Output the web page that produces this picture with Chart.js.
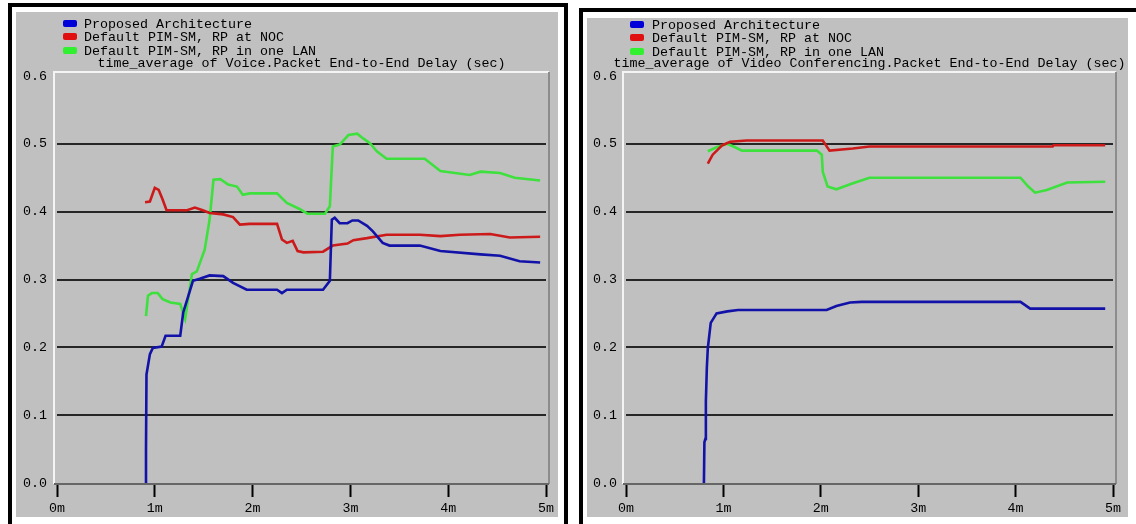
<!DOCTYPE html>
<html>
<head>
<meta charset="utf-8">
<script src="https://cdn.jsdelivr.net/npm/chart.js@4.4.1/dist/chart.umd.min.js"></script>
<style>
  html, body { margin: 0; padding: 0; background: #ffffff; }
  body { width: 1136px; height: 524px; position: relative; overflow: hidden; }
  .frame { position: absolute; box-sizing: border-box; border: 4px solid #000; background: #fff; }
  .panel { position: absolute; background: #c0c0c0; }
  canvas { position: absolute; }
  .txt { position: absolute; font-family: "Liberation Mono", "DejaVu Sans Mono", monospace;
         font-size: 13.33px; line-height: 14px; color: #000; white-space: pre; }
  .swatch { position: absolute; width: 14px; height: 7px; border-radius: 2px; }
</style>
</head>
<body>
<div class="frame" style="left:8px; top:3px; width:560px; height:600px;"></div>
<div class="frame" style="left:579px; top:8px; width:620px; height:600px;"></div>
<div class="panel" style="left:16px; top:12px; width:542px; height:505px;"></div>
<div class="panel" style="left:587px; top:18px; width:541px; height:499px;"></div>
<canvas id="voice" width="542" height="505" style="left:16px; top:12px;"></canvas>
<canvas id="video" width="541" height="499" style="left:587px; top:18px;"></canvas>

<script>
// Series names and axis text
const seriesNames = ['Proposed Architecture', 'Default PIM-SM, RP at NOC', 'Default PIM-SM, RP in one LAN'];
const voiceTitle = 'time_average of Voice.Packet End-to-End Delay (sec)';
const videoTitle = 'time_average of Video Conferencing.Packet End-to-End Delay (sec)';
const xTickLabels = ['0m', '1m', '2m', '3m', '4m', '5m'];
const yTickLabels = ['0.0', '0.1', '0.2', '0.3', '0.4', '0.5', '0.6'];

// Voice delay, [minutes, seconds]
const voiceProposed = [[0.905,0],[0.91,0.05],[0.915,0.16],[0.95,0.19],[0.98,0.199],[1.07,0.201],[1.11,0.217],[1.26,0.217],[1.29,0.251],[1.39,0.298],[1.46,0.301],[1.56,0.306],[1.70,0.305],[1.80,0.295],[1.94,0.285],[2.25,0.285],[2.30,0.28],[2.35,0.285],[2.72,0.285],[2.79,0.298],[2.81,0.388],[2.84,0.391],[2.89,0.383],[2.97,0.383],[3.02,0.387],[3.08,0.387],[3.17,0.379],[3.23,0.371],[3.33,0.354],[3.40,0.35],[3.71,0.35],[3.92,0.342],[4.33,0.337],[4.53,0.335],[4.73,0.327],[4.94,0.325]];
const voiceRpNoc = [[0.90,0.414],[0.95,0.415],[1.00,0.435],[1.04,0.432],[1.08,0.418],[1.12,0.402],[1.33,0.402],[1.41,0.406],[1.49,0.402],[1.56,0.398],[1.70,0.396],[1.80,0.392],[1.87,0.381],[1.97,0.382],[2.25,0.382],[2.30,0.359],[2.35,0.354],[2.41,0.357],[2.46,0.342],[2.52,0.34],[2.72,0.341],[2.82,0.35],[2.97,0.353],[3.03,0.358],[3.17,0.361],[3.37,0.366],[3.71,0.366],[3.92,0.364],[4.12,0.366],[4.43,0.367],[4.63,0.362],[4.94,0.363]];
const voiceRpLan = [[0.91,0.246],[0.93,0.276],[0.97,0.28],[1.03,0.28],[1.08,0.271],[1.16,0.266],[1.26,0.264],[1.31,0.242],[1.38,0.308],[1.43,0.312],[1.51,0.344],[1.56,0.388],[1.60,0.447],[1.67,0.448],[1.75,0.44],[1.84,0.437],[1.90,0.425],[1.97,0.427],[2.25,0.427],[2.35,0.413],[2.48,0.404],[2.56,0.397],[2.74,0.397],[2.79,0.408],[2.82,0.496],[2.89,0.499],[2.98,0.513],[3.07,0.515],[3.13,0.508],[3.20,0.501],[3.27,0.489],[3.37,0.478],[3.76,0.478],[3.92,0.46],[4.22,0.454],[4.33,0.459],[4.53,0.457],[4.68,0.45],[4.94,0.446]];

// Video conferencing delay, [minutes, seconds]
const videoProposed = [[0.80,0],[0.805,0.06],[0.815,0.065],[0.82,0.12],[0.83,0.17],[0.84,0.199],[0.87,0.236],[0.93,0.25],[1.04,0.253],[1.15,0.255],[2.06,0.255],[2.16,0.261],[2.30,0.266],[2.42,0.267],[4.05,0.267],[4.15,0.257],[4.92,0.257]];
const videoRpNoc = [[0.84,0.471],[0.89,0.484],[0.99,0.498],[1.07,0.503],[1.24,0.505],[2.02,0.505],[2.09,0.49],[2.33,0.493],[2.50,0.496],[4.38,0.496],[4.39,0.498],[4.92,0.498]];
const videoRpLan = [[0.84,0.489],[0.93,0.495],[1.04,0.5],[1.12,0.495],[1.19,0.49],[1.96,0.49],[2.01,0.484],[2.02,0.459],[2.07,0.437],[2.16,0.433],[2.33,0.442],[2.50,0.45],[4.05,0.45],[4.13,0.437],[4.20,0.428],[4.32,0.432],[4.53,0.443],[4.92,0.444]];

const seriesColors = ['#1212a8', '#cc1a1a', '#3ee03e'];
const swatchColors = ['#0000d8', '#e01010', '#30f030'];
const FONT = 'Liberation Mono';

// Plot frame: light top/left edges, darker right/bottom edges, set slightly outside the data area
const framePlugin = {
  id: 'plotFrame',
  beforeDatasetsDraw(chart) {
    const a = chart.chartArea, c = chart.ctx;
    const l = a.left - 3, r = a.right + 3, t = a.top - 4, b = a.bottom + 1;
    c.save();
    c.lineWidth = 2;
    c.strokeStyle = '#f4f4f4';
    c.beginPath();
    c.moveTo(l, b); c.lineTo(l, t); c.lineTo(r, t);
    c.stroke();
    c.strokeStyle = '#8c8c8c';
    c.beginPath();
    c.moveTo(r, t); c.lineTo(r, b);
    c.stroke();
    c.strokeStyle = '#666666';
    c.beginPath();
    c.moveTo(l, b); c.lineTo(r, b);
    c.stroke();
    c.restore();
  }
};

function makeChart(id, series, opts) {
  const datasets = series.map((pts, i) => ({
    label: seriesNames[i],
    data: pts.map(p => ({ x: p[0], y: p[1] })),
    borderColor: seriesColors[i],
    borderWidth: 2.6,
    pointRadius: 0,
    tension: 0,
    fill: false
  }));
  return new Chart(document.getElementById(id), {
    type: 'line',
    data: { datasets },
    plugins: [framePlugin],
    options: {
      responsive: false,
      animation: false,
      devicePixelRatio: 1,
      layout: { padding: { top: opts.top, right: opts.right, left: 0, bottom: 0 } },
      plugins: { legend: { display: false }, tooltip: { enabled: false }, title: { display: false } },
      scales: {
        x: {
          type: 'linear', min: 0, max: 5,
          afterFit: s => { s.height = 34; },
          afterBuildTicks: s => { s.ticks = xTickLabels.map((_, i) => ({ value: i })); },
          ticks: {
            autoSkip: false, maxRotation: 0, padding: 3,
            color: '#000', font: { family: FONT, size: 13.33 },
            callback: v => xTickLabels[Math.round(v)]
          },
          grid: { drawOnChartArea: false, drawTicks: true, tickLength: 14, tickColor: '#000', tickWidth: 2 },
          border: { display: false }
        },
        y: {
          type: 'linear', min: 0, max: 0.6,
          afterFit: s => { s.width = opts.yWidth; },
          afterBuildTicks: s => { s.ticks = yTickLabels.map((_, i) => ({ value: i / 10 })); },
          ticks: {
            padding: opts.yPad, color: '#000', font: { family: FONT, size: 13.33 },
            callback: v => yTickLabels[Math.round(v * 10)]
          },
          grid: {
            drawTicks: false, lineWidth: 2,
            color: c => (c.tick && c.tick.value > 0.05 && c.tick.value < 0.55) ? '#262626' : 'rgba(0,0,0,0)'
          },
          border: { display: false }
        }
      }
    }
  });
}

makeChart('voice', [voiceProposed, voiceRpNoc, voiceRpLan], { top: 64, right: 12, yWidth: 41, yPad: 10 });
makeChart('video', [videoProposed, videoRpNoc, videoRpLan], { top: 58, right: 15, yWidth: 39, yPad: 9 });

// Legend rows and axis titles
function addText(str, left, cy, extra) {
  const d = document.createElement('div');
  d.className = 'txt';
  d.textContent = str;
  d.style.left = left + 'px';
  d.style.top = (cy - 7) + 'px';
  if (extra) Object.assign(d.style, extra);
  document.body.appendChild(d);
}
function addLegend(swLeft, txtLeft, rows) {
  seriesNames.forEach((name, i) => {
    const s = document.createElement('div');
    s.className = 'swatch';
    s.style.left = swLeft + 'px';
    s.style.top = (rows[i] - 3) + 'px';
    s.style.background = swatchColors[i];
    document.body.appendChild(s);
    addText(name, txtLeft, rows[i] + 2);
  });
}
addLegend(63, 84, [23, 36, 49.5]);
addLegend(630, 652, [24, 37, 50.5]);
addText(voiceTitle, 301.5 - 300, 64, { width: '600px', textAlign: 'center' });
addText(videoTitle, 869.5 - 300, 64, { width: '600px', textAlign: 'center' });
</script>
</body>
</html>
